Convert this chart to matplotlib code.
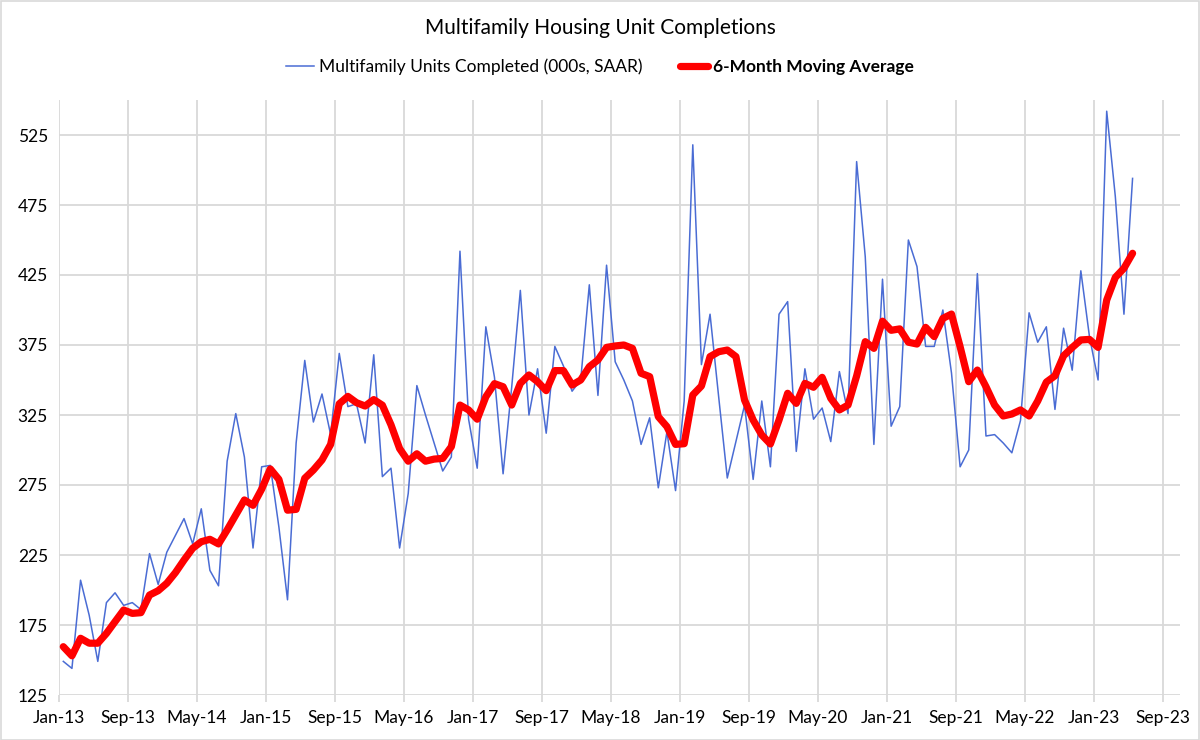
import matplotlib
matplotlib.use("Agg")
import matplotlib.pyplot as plt
from matplotlib.patches import Rectangle
import numpy as np

plt.rcParams['font.family'] = ['Lato', 'DejaVu Sans']

# Monthly data Jan-2013 .. May-2023
units_completed = [
    149, 144, 207, 182, 149, 191, 198, 189, 191, 186,
    226, 204, 227, 239, 251, 233, 258, 214, 203, 292,
    326, 295, 230, 288, 289, 245, 193, 305, 364, 320,
    340, 311, 369, 331, 333, 305, 368, 281, 287, 230,
    269, 346, 325, 305, 285, 295, 442, 322, 287, 388,
    352, 283, 345, 414, 325, 358, 312, 374, 360, 342,
    350, 418, 339, 432, 363, 350, 335, 304, 323, 273,
    313, 271, 335, 518, 361, 397, 338, 280, 306, 332,
    279, 335, 288, 397, 406, 299, 358, 322, 330, 306,
    356, 326, 506, 438, 304, 422, 317, 331, 450, 431,
    374, 374, 400, 355, 288, 300, 426, 310, 311, 305,
    298, 321, 398, 377, 388, 329, 387, 357, 428, 381,
    350, 542, 481, 397, 494,
]
moving_avg = [
    159.5, 153.0, 165.5, 162.0, 162.0, 169.0, 177.4, 185.7, 183.3, 183.8,
    196.4, 199.5, 204.8, 212.4, 221.4, 229.8, 234.5, 236.2, 232.9, 242.9,
    253.6, 264.3, 260.5, 272.0, 286.5, 279.0, 257.0, 257.6, 279.8, 285.7,
    292.9, 304.0, 333.0, 338.3, 333.8, 331.4, 336.0, 332.0, 318.0, 301.0,
    292.0, 297.3, 292.0, 293.5, 294.0, 302.4, 332.1, 328.6, 322.0, 338.0,
    347.4, 345.2, 332.1, 347.6, 353.6, 348.8, 342.4, 356.7, 356.7, 346.4,
    350.0, 359.5, 364.3, 373.3, 374.3, 375.0, 372.6, 354.8, 352.4, 323.8,
    316.7, 304.0, 304.5, 339.3, 345.7, 366.7, 370.2, 371.4, 366.7, 335.7,
    321.4, 310.7, 304.3, 321.4, 340.5, 333.3, 347.6, 344.8, 351.9, 336.9,
    328.6, 332.1, 352.9, 377.4, 372.6, 392.0, 385.5, 386.5, 377.0, 375.7,
    387.6, 381.0, 394.0, 397.1, 373.8, 348.8, 357.1, 345.2, 332.1, 324.3,
    325.7, 328.6, 324.3, 335.0, 348.5, 353.0, 367.3, 373.2, 378.6, 379.0,
    373.3, 407.1, 423.3, 429.8, 440.5,
]
x_tick_labels = ["Jan-13", "Sep-13", "May-14", "Jan-15", "Sep-15", "May-16",
                 "Jan-17", "Sep-17", "May-18", "Jan-19", "Sep-19", "May-20",
                 "Jan-21", "Sep-21", "May-22", "Jan-23", "Sep-23"]
y_ticks = [125, 175, 225, 275, 325, 375, 425, 475, 525]

title = "Multifamily Housing Unit Completions"
label_units = "Multifamily Units Completed (000s, SAAR)"
label_ma = "6-Month Moving Average"

fig = plt.figure(figsize=(12, 7.4), dpi=100)
ax = fig.add_axes([59 / 1200, 1 - 695 / 740, (1180 - 59) / 1200, (695 - 100) / 740])

months = np.arange(len(units_completed)) + 0.5
grid_c = "#d9d9d9"

ax.plot(months, units_completed, color="#4a6cd4", lw=1.1, label=label_units, zorder=3)
ax.plot(months, moving_avg, color="#ff0000", lw=5.2, label=label_ma,
        solid_joinstyle="round", solid_capstyle="round", zorder=4)

ax.set_xlim(0, 130)
ax.set_ylim(125, 550)
ax.set_xticks(np.arange(len(x_tick_labels)) * 8)
ax.set_xticklabels(x_tick_labels)
ax.set_yticks(y_ticks)
ax.grid(True, color=grid_c, lw=1.3, zorder=0)
ax.set_axisbelow(True)
for s in ax.spines.values():
    s.set_visible(False)
ax.tick_params(axis="x", length=5, width=1.3, color=grid_c, labelsize=12.5,
               pad=6, labelcolor="#000000")
ax.tick_params(axis="y", length=0, labelsize=12.5, pad=8, labelcolor="#000000")

fig.text(0.5, 1 - 28 / 740, title, ha="center", va="center", fontsize=15, color="#000000")
leg = fig.legend(loc="center", bbox_to_anchor=(0.5, 1 - 67 / 740), ncol=2, frameon=False,
                 fontsize=12.5, handlelength=1.6, columnspacing=2.2, handletextpad=0.3)
leg.get_texts()[1].set_fontweight("bold")
leg.get_texts()[1].set_fontsize(12.5)

fig.patches.append(Rectangle((0.5 / 1200, 0.5 / 740), 1 - 1.5 / 1200, 1 - 1.5 / 740,
                             transform=fig.transFigure, fill=False, edgecolor=grid_c, lw=1.2))

fig.savefig("out.png", dpi=100)
